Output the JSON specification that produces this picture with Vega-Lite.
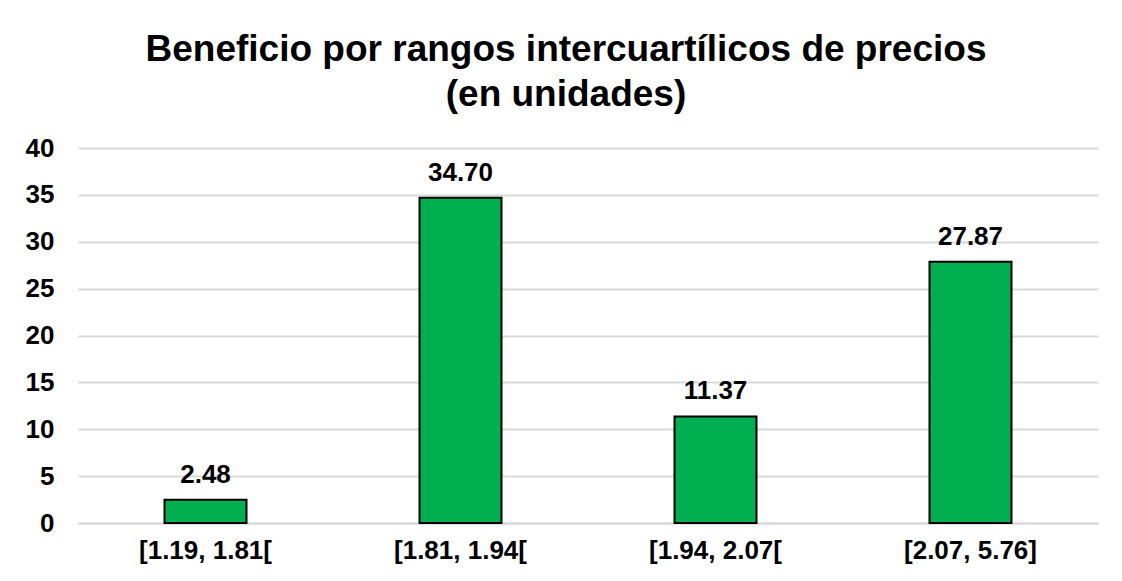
{
  "$schema": "https://vega.github.io/schema/vega-lite/v6.json",
  "width": 1020,
  "height": 375,
  "autosize": {"type": "none"},
  "padding": {"left": 78, "top": 148, "right": 24, "bottom": 58},
  "background": "white",
  "title": {
    "text": ["Beneficio por rangos intercuartílicos de precios", "(en unidades)"],
    "font": "Liberation Sans",
    "fontSize": 37,
    "fontWeight": "bold",
    "color": "#000000",
    "anchor": "middle",
    "frame": "group",
    "dx": -22,
    "offset": 21,
    "lineHeight": 45
  },
  "data": {
    "values": [
      {"rango": "[1.19, 1.81[", "beneficio": 2.48},
      {"rango": "[1.81, 1.94[", "beneficio": 34.70},
      {"rango": "[1.94, 2.07[", "beneficio": 11.37},
      {"rango": "[2.07, 5.76]", "beneficio": 27.87}
    ]
  },
  "encoding": {
    "x": {
      "field": "rango",
      "type": "nominal",
      "sort": null,
      "scale": {"paddingInner": 0, "paddingOuter": 0},
      "axis": {
        "title": null,
        "labelAngle": 0,
        "labelFont": "Liberation Sans",
        "labelFontSize": 26,
        "labelFontWeight": "bold",
        "labelColor": "#000000",
        "labelPadding": 14,
        "ticks": false,
        "domain": true,
        "domainColor": "#D9D9D9",
        "domainWidth": 2,
        "grid": false
      }
    },
    "y": {
      "field": "beneficio",
      "type": "quantitative",
      "scale": {"domain": [0, 40]},
      "axis": {
        "title": null,
        "values": [0, 5, 10, 15, 20, 25, 30, 35, 40],
        "labelFont": "Liberation Sans",
        "labelFontSize": 26,
        "labelFontWeight": "bold",
        "labelColor": "#000000",
        "labelPadding": 24,
        "ticks": false,
        "domain": false,
        "grid": true,
        "gridColor": "#D9D9D9",
        "gridWidth": 2
      }
    }
  },
  "layer": [
    {
      "mark": {"type": "bar", "width": 82, "fill": "#00B050", "stroke": "#000000", "strokeWidth": 2}
    },
    {
      "mark": {
        "type": "text",
        "baseline": "alphabetic",
        "dy": -17,
        "font": "Liberation Sans",
        "fontSize": 26,
        "fontWeight": "bold",
        "color": "#000000"
      },
      "encoding": {
        "text": {"field": "beneficio", "type": "quantitative", "format": ".2f"}
      }
    }
  ],
  "config": {"view": {"stroke": null}}
}
